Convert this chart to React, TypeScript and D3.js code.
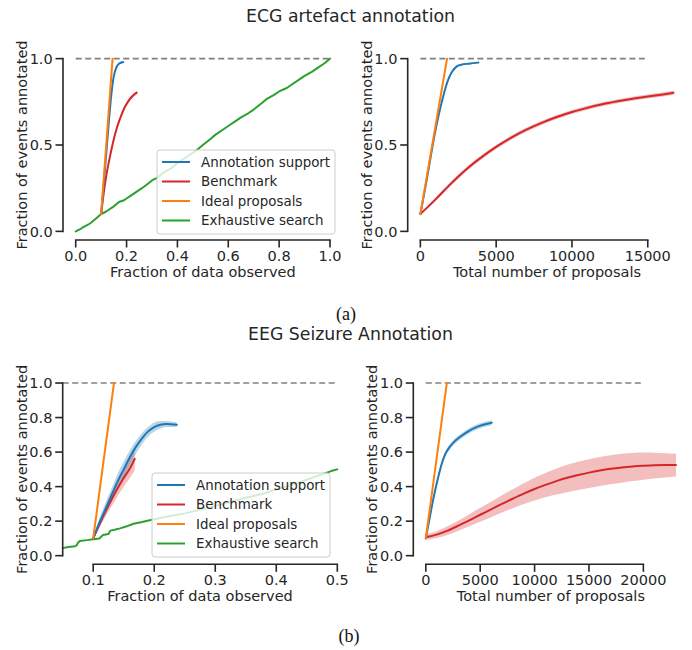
import * as d3 from "d3";

const BLUE = "#1f77b4";
const ORANGE = "#ff7f0e";
const GREEN = "#2ca02c";
const RED = "#d62728";
const INK = "#262626";
const FONT = "DejaVu Sans, sans-serif";

const legendNames = ["Annotation support", "Benchmark", "Ideal proposals", "Exhaustive search"];
const legendColors = [BLUE, RED, ORANGE, GREEN];

// (a) ECG, fraction of data observed  — [x, y] or [x, y, lo, hi]
const ecgFracSupport = [
  [0.1, 0.1, 0.095, 0.105], [0.11, 0.27, 0.26, 0.28], [0.12, 0.45, 0.44, 0.46], [0.13, 0.63, 0.62, 0.64],
  [0.14, 0.79, 0.78, 0.8], [0.15, 0.9, 0.89, 0.91], [0.16, 0.95, 0.943, 0.957], [0.17, 0.97, 0.965, 0.975],
  [0.187, 0.98, 0.975, 0.985],
];
const ecgFracBench = [
  [0.1, 0.1, 0.095, 0.105], [0.11, 0.22, 0.21, 0.23], [0.12, 0.32, 0.31, 0.33], [0.13, 0.4, 0.39, 0.41],
  [0.14, 0.47, 0.46, 0.48], [0.15, 0.535, 0.525, 0.545], [0.16, 0.59, 0.58, 0.6], [0.17, 0.635, 0.625, 0.645],
  [0.18, 0.675, 0.665, 0.685], [0.19, 0.71, 0.7, 0.72], [0.2, 0.737, 0.727, 0.747], [0.21, 0.76, 0.75, 0.77],
  [0.22, 0.778, 0.768, 0.788], [0.23, 0.792, 0.782, 0.802], [0.24, 0.803, 0.793, 0.813],
];
const ecgFracIdeal = [[0.1, 0.1], [0.145, 1.0]];
const ecgFracSearch = [
  [0, 0], [0.02, 0.015], [0.03, 0.025], [0.05, 0.04], [0.06, 0.05], [0.08, 0.075], [0.1, 0.1], [0.12, 0.115],
  [0.13, 0.125], [0.15, 0.145], [0.17, 0.17], [0.19, 0.18], [0.2, 0.19], [0.22, 0.21], [0.25, 0.24],
  [0.27, 0.26], [0.3, 0.295], [0.32, 0.31], [0.35, 0.345], [0.37, 0.36], [0.4, 0.395], [0.43, 0.425],
  [0.45, 0.445], [0.48, 0.475], [0.5, 0.5], [0.53, 0.535], [0.55, 0.56], [0.58, 0.59], [0.6, 0.61],
  [0.63, 0.64], [0.65, 0.66], [0.68, 0.685], [0.7, 0.705], [0.73, 0.74], [0.75, 0.765], [0.78, 0.79],
  [0.8, 0.81], [0.83, 0.83], [0.85, 0.85], [0.88, 0.88], [0.9, 0.9], [0.93, 0.925], [0.95, 0.945],
  [0.98, 0.975], [1, 1],
];

// (a) ECG, total number of proposals
const ecgPropSupport = [
  [0, 0.1, 0.095, 0.105], [300, 0.24, 0.235, 0.245], [600, 0.39, 0.385, 0.395], [900, 0.54, 0.535, 0.545],
  [1200, 0.67, 0.665, 0.675], [1500, 0.78, 0.775, 0.785], [1800, 0.87, 0.865, 0.875], [2100, 0.925, 0.92, 0.93],
  [2400, 0.955, 0.95, 0.96], [2700, 0.965, 0.96, 0.97], [3200, 0.971, 0.966, 0.976], [3830, 0.977, 0.972, 0.982],
];
const ecgPropBench = [
  [0, 0.1, 0.095, 0.105], [1000, 0.185, 0.175, 0.195], [2000, 0.275, 0.263, 0.287], [3000, 0.357, 0.345, 0.369],
  [4000, 0.427, 0.415, 0.439], [5000, 0.489, 0.477, 0.501], [6000, 0.543, 0.531, 0.555], [7000, 0.589, 0.577, 0.601],
  [8000, 0.628, 0.616, 0.64], [9000, 0.662, 0.65, 0.674], [10000, 0.691, 0.679, 0.703], [11000, 0.715, 0.703, 0.727],
  [12000, 0.736, 0.724, 0.748], [13000, 0.753, 0.741, 0.765], [14000, 0.768, 0.756, 0.78], [15000, 0.781, 0.769, 0.793],
  [16000, 0.793, 0.781, 0.805], [16700, 0.802, 0.79, 0.814],
];
const ecgPropIdeal = [[0, 0.1], [1760, 1.0]];

// (b) EEG, fraction of data observed
const eegFracSupport = [
  [0.1, 0.1, 0.09, 0.11], [0.11, 0.19, 0.165, 0.215], [0.12, 0.27, 0.235, 0.305], [0.13, 0.35, 0.31, 0.39],
  [0.14, 0.43, 0.385, 0.475], [0.15, 0.5, 0.455, 0.545], [0.16, 0.57, 0.525, 0.61], [0.17, 0.63, 0.59, 0.665],
  [0.18, 0.68, 0.645, 0.71], [0.19, 0.72, 0.69, 0.745], [0.2, 0.745, 0.718, 0.772], [0.21, 0.758, 0.735, 0.78],
  [0.22, 0.762, 0.745, 0.78], [0.237, 0.758, 0.745, 0.771],
];
const eegFracBench = [
  [0.1, 0.1, 0.09, 0.11], [0.11, 0.18, 0.16, 0.2], [0.12, 0.255, 0.225, 0.285], [0.13, 0.325, 0.285, 0.365],
  [0.14, 0.39, 0.345, 0.435], [0.15, 0.45, 0.4, 0.5], [0.16, 0.505, 0.45, 0.565], [0.168, 0.56, 0.495, 0.625],
];
const eegFracIdeal = [[0.1, 0.1], [0.134, 1.0]];
const eegFracSearch = [
  [0.05, 0.045], [0.06, 0.05], [0.07, 0.055], [0.073, 0.06], [0.075, 0.075], [0.078, 0.085], [0.09, 0.09],
  [0.1, 0.095], [0.11, 0.1], [0.113, 0.11], [0.116, 0.12], [0.125, 0.125], [0.128, 0.145], [0.135, 0.15],
  [0.144, 0.158], [0.155, 0.17], [0.166, 0.185], [0.18, 0.195], [0.198, 0.21], [0.22, 0.225], [0.25, 0.245],
  [0.28, 0.27], [0.3, 0.29], [0.33, 0.315], [0.35, 0.335], [0.38, 0.36], [0.4, 0.385], [0.43, 0.415],
  [0.45, 0.44], [0.47, 0.465], [0.49, 0.49], [0.5, 0.5],
];

// (b) EEG, total number of proposals
const eegPropSupport = [
  [0, 0.1, 0.09, 0.11], [300, 0.2, 0.19, 0.21], [600, 0.3, 0.285, 0.315], [900, 0.39, 0.375, 0.405],
  [1200, 0.47, 0.455, 0.485], [1500, 0.54, 0.525, 0.555], [1800, 0.59, 0.575, 0.605], [2200, 0.63, 0.615, 0.645],
  [2700, 0.665, 0.65, 0.68], [3200, 0.69, 0.675, 0.705], [3900, 0.72, 0.705, 0.735], [4500, 0.74, 0.725, 0.755],
  [5200, 0.757, 0.742, 0.772], [6060, 0.77, 0.755, 0.785],
];
const eegPropBench = [
  [0, 0.107, 0.092, 0.122], [1000, 0.122, 0.102, 0.142], [2000, 0.145, 0.12, 0.17], [3000, 0.174, 0.144, 0.204],
  [4000, 0.205, 0.17, 0.24], [5000, 0.237, 0.197, 0.277], [6000, 0.268, 0.223, 0.313], [7000, 0.3, 0.25, 0.35],
  [8000, 0.33, 0.275, 0.385], [9000, 0.359, 0.299, 0.419], [10000, 0.386, 0.32, 0.451], [11000, 0.41, 0.338, 0.479],
  [12000, 0.432, 0.354, 0.504], [13000, 0.451, 0.368, 0.526], [14000, 0.467, 0.38, 0.544], [15000, 0.481, 0.392, 0.559],
  [16000, 0.493, 0.403, 0.572], [17000, 0.503, 0.413, 0.582], [18000, 0.511, 0.423, 0.59], [19000, 0.517, 0.432, 0.595],
  [20000, 0.521, 0.44, 0.597], [21000, 0.524, 0.447, 0.596], [22000, 0.525, 0.453, 0.593], [23000, 0.525, 0.458, 0.59],
];
const eegPropIdeal = [[0, 0.1], [1930, 1.0]];

const yTicksA = [0, 0.5, 1.0];
const yTicksB = [0, 0.2, 0.4, 0.6, 0.8, 1.0];
const ecgFracTicks = [0, 0.2, 0.4, 0.6, 0.8, 1.0];
const ecgPropTicks = [0, 5000, 10000, 15000];
const eegFracTicks = [0.1, 0.2, 0.3, 0.4, 0.5];
const eegPropTicks = [0, 5000, 10000, 15000, 20000];

const ecgFracRef = [0, 1];
const ecgPropRef = [0, 15000];
const eegFracRef = [0.05, 0.5];
const eegPropRef = [0, 20000];

type Series = { pts: number[][]; color: string; band?: boolean; smooth?: boolean };

type PanelProps = {
  left: number; right: number; top: number; bottom: number;
  xDomain: number[]; xTicks: number[]; yTicks: number[];
  xFmt: (v: number) => string; yFmt: (v: number) => string;
  xLabel: string; yLabelX: number; ref: number[];
  series: Series[];
  legend?: { x: number; y: number };
};

function Legend({ x, y }: { x: number; y: number }) {
  return (
    <g transform={`translate(${x},${y})`}>
      <rect width={178} height={84} rx={3} fill="white" fillOpacity={0.8} stroke="#cccccc" strokeWidth={1} />
      {legendNames.map((name, i) => (
        <g key={name} transform={`translate(0,${12 + i * 19.5})`}>
          <line x1={5} x2={33} y1={0} y2={0} stroke={legendColors[i]} strokeWidth={2} />
          <text x={44} y={4.6} fontSize={13.4} fill={INK} fontFamily={FONT}>{name}</text>
        </g>
      ))}
    </g>
  );
}

function Panel(p: PanelProps) {
  const yDomain = [-0.05, 1.05];
  const x = d3.scaleLinear().domain(p.xDomain).range([p.left, p.right]);
  const y = d3.scaleLinear().domain(yDomain).range([p.bottom, p.top]);
  const line = (smooth?: boolean) =>
    d3.line<number[]>().x((d) => x(d[0])).y((d) => y(d[1])).curve(smooth ? d3.curveMonotoneX : d3.curveLinear);
  const area = d3.area<number[]>().x((d) => x(d[0])).y0((d) => y(d[2])).y1((d) => y(d[3])).curve(d3.curveMonotoneX);
  const xt = p.xTicks, yt = p.yTicks;
  const tick = 7.5;
  return (
    <g>
      <line x1={x(p.ref[0])} x2={x(p.ref[1])} y1={y(1)} y2={y(1)} stroke="#808080" strokeWidth={1.6} strokeDasharray="6,3.5" />
      {p.series.filter((s) => s.band).map((s, i) => (
        <path key={"b" + i} d={area(s.pts) || ""} fill={s.color} fillOpacity={0.3} stroke="none" />
      ))}
      {p.series.map((s, i) => (
        <path key={"l" + i} d={line(s.smooth)(s.pts) || ""} fill="none" stroke={s.color} strokeWidth={2}
          strokeLinejoin="round" strokeLinecap="round" />
      ))}
      {/* y axis */}
      <line x1={p.left} x2={p.left} y1={y(yt[0])} y2={y(yt[yt.length - 1])} stroke={INK} strokeWidth={1.6} strokeLinecap="square" />
      {yt.map((v) => (
        <g key={"y" + v}>
          <line x1={p.left - tick} x2={p.left} y1={y(v)} y2={y(v)} stroke={INK} strokeWidth={1.6} />
          <text x={p.left - tick - 2.8} y={y(v) + 5.2} textAnchor="end" fontSize={14.5} fill={INK} fontFamily={FONT}>{p.yFmt(v)}</text>
        </g>
      ))}
      {/* x axis */}
      <line x1={x(xt[0])} x2={x(xt[xt.length - 1])} y1={p.bottom} y2={p.bottom} stroke={INK} strokeWidth={1.6} strokeLinecap="square" />
      {xt.map((v) => (
        <g key={"x" + v}>
          <line x1={x(v)} x2={x(v)} y1={p.bottom} y2={p.bottom + tick} stroke={INK} strokeWidth={1.6} />
          <text x={x(v)} y={p.bottom + 20.5} textAnchor="middle" fontSize={14.5} fill={INK} fontFamily={FONT}>{p.xFmt(v)}</text>
        </g>
      ))}
      <text x={(p.left + p.right) / 2} y={p.bottom + 37} textAnchor="middle" fontSize={14.5} fill={INK} fontFamily={FONT}>{p.xLabel}</text>
      <text transform={`translate(${p.yLabelX},${(p.top + p.bottom) / 2}) rotate(-90)`} textAnchor="middle" fontSize={14.5}
        fill={INK} fontFamily={FONT}>Fraction of events annotated</text>
      {p.legend && <Legend x={p.legend.x} y={p.legend.y} />}
    </g>
  );
}

const f1 = d3.format(".1f");
const f0 = d3.format("d");

export default function App() {
  return (
    <svg width={692} height={650} style={{ position: "absolute", left: 0, top: 0, background: "white" }}>
      <text x={350.5} y={21.7} textAnchor="middle" fontSize={17.3} fill={INK} fontFamily={FONT}>ECG artefact annotation</text>
      <Panel left={63} right={342.7} top={50} bottom={240} xDomain={[-0.05, 1.05]} xTicks={ecgFracTicks} yTicks={yTicksA}
        xFmt={f1} yFmt={f1} xLabel="Fraction of data observed" yLabelX={26.5} ref={ecgFracRef}
        series={[
          { pts: ecgFracSearch, color: GREEN },
          { pts: ecgFracBench, color: RED, band: true, smooth: true },
          { pts: ecgFracSupport, color: BLUE, band: true, smooth: true },
          { pts: ecgFracIdeal, color: ORANGE },
        ]}
        legend={{ x: 157, y: 150 }} />
      <Panel left={407.7} right={686.2} top={50} bottom={240} xDomain={[-835, 17535]} xTicks={ecgPropTicks} yTicks={yTicksA}
        xFmt={f0} yFmt={f1} xLabel="Total number of proposals" yLabelX={371.5} ref={ecgPropRef}
        series={[
          { pts: ecgPropBench, color: RED, band: true, smooth: true },
          { pts: ecgPropSupport, color: BLUE, band: true, smooth: true },
          { pts: ecgPropIdeal, color: ORANGE },
        ]} />
      <text x={346} y={320} textAnchor="middle" fontSize={18} fill="#111" fontFamily="Liberation Serif, serif">(a)</text>

      <text x={350.5} y={340} textAnchor="middle" fontSize={17.3} fill={INK} fontFamily={FONT}>EEG Seizure Annotation</text>
      <Panel left={62.7} right={337.3} top={374.4} bottom={564.3} xDomain={[0.05, 0.5]} xTicks={eegFracTicks} yTicks={yTicksB}
        xFmt={f1} yFmt={f1} xLabel="Fraction of data observed" yLabelX={26.5} ref={eegFracRef}
        series={[
          { pts: eegFracSearch, color: GREEN },
          { pts: eegFracBench, color: RED, band: true, smooth: true },
          { pts: eegFracSupport, color: BLUE, band: true, smooth: true },
          { pts: eegFracIdeal, color: ORANGE },
        ]}
        legend={{ x: 152, y: 473 }} />
      <Panel left={413.3} right={688.5} top={374.4} bottom={564.3} xDomain={[-1150, 24150]} xTicks={eegPropTicks} yTicks={yTicksB}
        xFmt={f0} yFmt={f1} xLabel="Total number of proposals" yLabelX={376.5} ref={eegPropRef}
        series={[
          { pts: eegPropBench, color: RED, band: true, smooth: true },
          { pts: eegPropSupport, color: BLUE, band: true, smooth: true },
          { pts: eegPropIdeal, color: ORANGE },
        ]} />
      <text x={349} y={642} textAnchor="middle" fontSize={18} fill="#111" fontFamily="Liberation Serif, serif">(b)</text>
    </svg>
  );
}
